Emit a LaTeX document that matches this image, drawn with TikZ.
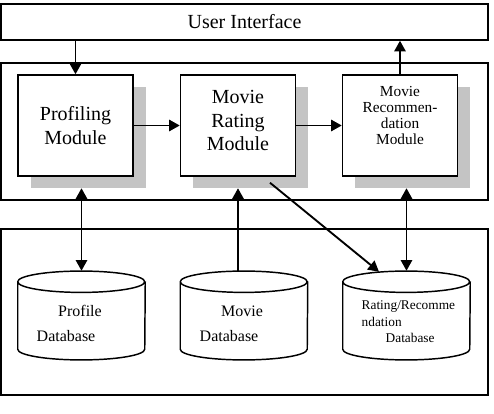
\documentclass[tikz,border=0pt]{standalone}
\usepackage{fontspec}
\setmainfont{Liberation Serif}
\usetikzlibrary{calc,arrows.meta}

\begin{document}
\begin{tikzpicture}[x=0.75pt,y=-0.75pt,>={Triangle[length=8pt,width=8.5pt]},
  frame/.style={draw, line width=1.1pt, inner sep=0pt},
  layer/.style={frame, minimum width=365.25pt},
  module/.style={frame, fill=white, minimum width=86.25pt, minimum height=75.75pt},
  modshadow/.style={fill=black!23, inner sep=0pt, minimum width=86.25pt, minimum height=75.75pt},
  dbslot/.style={inner sep=0pt, minimum width=95.25pt, minimum height=66pt},
  dbend/.style={x radius=47.625pt, y radius=8pt},
  modtext/.style={align=center, font=\fontsize{15}{17.5}\selectfont},
  dbtext/.style={font=\fontsize{12}{14}\selectfont},
  smalltext/.style={anchor=west, font=\fontsize{10}{12}\selectfont},
  flow/.style={line width=1.4pt, ->},
  twoway/.style={line width=1.4pt, <->}]
\useasboundingbox (0,0) rectangle (494,414);
\node[layer, minimum height=27pt, font=\fontsize{15}{17.5}\selectfont] (ui) at (244.5,22) {User Interface};
\node[layer, minimum height=102.75pt] (modlayer) at (244.5,131.5) {};
\node[layer, minimum height=124.5pt] (datalayer) at (244.5,312) {};
\node[modshadow] (profsh) at (88,137.5) {};
\node[modshadow] (ratesh) at (250.5,137.5) {};
\node[modshadow] (recsh) at (412.5,137.5) {};
\node[module] (prof) at (75.5,125.5) {};
\node[module] (rate) at (238,125.5) {};
\node[module] (rec) at (400,125.5) {};
\node[modtext] (proftxt) at (prof) {Profiling\\Module};
\node[modtext] (ratetxt) at ($(rate)+(0,-5)$) {Movie\\Rating\\Module};
\node[align=center, font=\fontsize{11.5}{11.8}\selectfont] (rectxt) at ($(rec)+(0,-10)$) {Movie\\Recommen-\\dation\\Module};
\node[dbslot] (pdb) at (81.5,315) {};
\node[dbslot] (mdb) at (244,315) {};
\node[dbslot] (rdb) at (406.5,315) {};
\draw[frame] ($(pdb.north west)+(0,11)$) arc[start angle=180, end angle=540, dbend] -- ($(pdb.south west)+(0,-10)$) arc[start angle=180, end angle=360, dbend] -- ($(pdb.north east)+(0,11)$);
\draw[frame] ($(mdb.north west)+(0,11)$) arc[start angle=180, end angle=540, dbend] -- ($(mdb.south west)+(0,-10)$) arc[start angle=180, end angle=360, dbend] -- ($(mdb.north east)+(0,11)$);
\draw[frame] ($(rdb.north west)+(0,11)$) arc[start angle=180, end angle=540, dbend] -- ($(rdb.south west)+(0,-10)$) arc[start angle=180, end angle=360, dbend] -- ($(rdb.north east)+(0,11)$);
\node[dbtext] (pdbtxt) at (80,311) {Profile};
\node[dbtext, anchor=west] (pdbtxt2) at (32,336) {Database};
\node[dbtext] (mdbtxt) at (242,311) {Movie};
\node[dbtext, anchor=west] (mdbtxt2) at (195,336) {Database};
\node[smalltext] (rdbtxt) at (357,307) {Rating/Recomme};
\node[smalltext] (rdbtxt2) at (357,322) {ndation};
\node[smalltext] (rdbtxt3) at (381,338) {Database};
\coordinate (mdbtop) at ($(mdb.north)+(-6,0)$);
\coordinate (rdbin) at ($(rdb.north)+(-27.5,1)$);
\draw[flow] (prof.north |- ui.south) -- (prof.north);
\draw[flow] (rec.north) -- (rec.north |- ui.south);
\draw[flow] (prof) -- (rate);
\draw[flow] (rate) -- (rec);
\draw[twoway] (pdb.north |- profsh.south) -- (pdb.north);
\draw[flow] (mdbtop) -- (mdbtop |- ratesh.south);
\draw[flow] ($(rate.south)+(32,6)$) -- (rdbin);
\draw[twoway] (rdb.north |- recsh.south) -- (rdb.north);
\end{tikzpicture}
\end{document}
